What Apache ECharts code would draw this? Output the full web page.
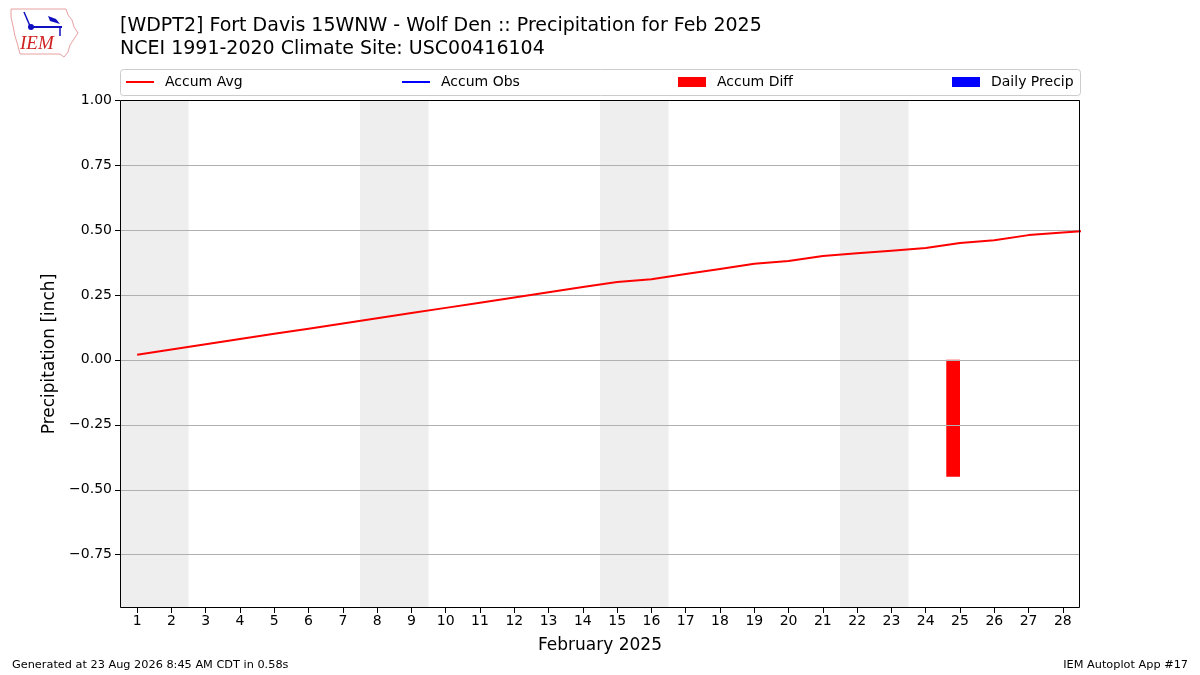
<!DOCTYPE html>
<html>
<head>
<meta charset="utf-8">
<script src="https://cdn.jsdelivr.net/npm/echarts@6/dist/echarts.min.js"></script>
<style>
html, body { margin: 0; padding: 0; background: #fff; }
#chart { width: 1200px; height: 675px; }
</style>
</head>
<body>
<div id="chart"></div>
<script>
// data
var days = [1, 2, 3, 4, 5, 6, 7, 8, 9, 10, 11, 12, 13, 14, 15, 16, 17, 18, 19, 20, 21, 22, 23, 24, 25, 26, 27, 28, 29];
var accumAvg = [0.02, 0.04, 0.06, 0.08, 0.10, 0.12, 0.14, 0.16, 0.18, 0.20, 0.22, 0.24, 0.26, 0.28, 0.30, 0.31, 0.33, 0.35, 0.37, 0.38, 0.40, 0.41, 0.42, 0.43, 0.45, 0.46, 0.48, 0.49, 0.50];
var accumObs = [];
var diffDays = [25];
var diffVals = [-0.45];
var dailyPrecip = [];
var weekends = [[1, 2], [8, 9], [15, 16], [22, 23]];
var xTicks = [1, 2, 3, 4, 5, 6, 7, 8, 9, 10, 11, 12, 13, 14, 15, 16, 17, 18, 19, 20, 21, 22, 23, 24, 25, 26, 27, 28];
var yTicks = [-0.75, -0.5, -0.25, 0, 0.25, 0.5, 0.75, 1.0];

var FONT = 'DejaVu Sans';
var chart = echarts.init(document.getElementById('chart'));

function barItem(params, api) {
    var d = api.value(0), v = api.value(1);
    var p0 = api.coord([d - 0.4, 0]);
    var p1 = api.coord([d, v]);
    return {
        type: 'rect',
        shape: { x: p0[0], y: Math.min(p0[1], p1[1]), width: p1[0] - p0[0], height: Math.abs(p1[1] - p0[1]) },
        style: { fill: api.visual('color') }
    };
}

function legendAt(name, left, h) {
    return {
        data: [name], left: left, top: 75, padding: 0, icon: 'rect',
        itemWidth: 28, itemHeight: h, selectedMode: false,
        textStyle: { fontFamily: FONT, fontSize: 14, color: '#000', padding: [0, 0, 0, 6] }
    };
}

option = {
    backgroundColor: '#fff',
    animation: false,
    title: {
        text: '[WDPT2] Fort Davis 15WNW - Wolf Den :: Precipitation for Feb 2025\nNCEI 1991-2020 Climate Site: USC00416104',
        left: 120, top: 15, padding: 0,
        textStyle: { fontFamily: FONT, fontSize: 19, fontWeight: 'normal', color: '#000', lineHeight: 23 }
    },
    legend: [
        legendAt('Accum Avg', 126, 2),
        legendAt('Accum Obs', 402, 2),
        legendAt('Accum Diff', 678, 10),
        legendAt('Daily Precip', 952, 10)
    ],
    grid: { left: 120, right: 120, top: 100, bottom: 67, containLabel: false },
    xAxis: {
        type: 'value', min: 0.5, max: 28.5,
        name: 'February 2025', nameLocation: 'middle', nameGap: 29,
        nameTextStyle: { fontFamily: FONT, fontSize: 17, color: '#000' },
        axisLine: { show: false, onZero: false },
        axisTick: { show: true, customValues: xTicks, length: 5, lineStyle: { color: '#000' } },
        axisLabel: { customValues: xTicks, margin: 6, fontFamily: FONT, fontSize: 14, color: '#000' },
        splitLine: { show: false }
    },
    yAxis: {
        type: 'value', min: -0.955, max: 1.0,
        name: 'Precipitation [inch]', nameLocation: 'middle', nameGap: 55,
        nameTextStyle: { fontFamily: FONT, fontSize: 17, color: '#000' },
        axisLine: { show: false, onZero: false },
        axisTick: { show: true, customValues: yTicks, length: 5, lineStyle: { color: '#000' } },
        axisLabel: {
            customValues: yTicks, margin: 8, fontFamily: FONT, fontSize: 14, color: '#000',
            formatter: function (v) { return v.toFixed(2).replace('-', '\u2212'); }
        },
        splitLine: { show: false }
    },
    series: [
        {
            name: 'weekends', type: 'line', data: [], z: 1, silent: true,
            markArea: {
                silent: true,
                itemStyle: { color: '#eeeeee' },
                data: weekends.map(function (w) { return [{ xAxis: w[0] - 0.5 }, { xAxis: w[1] + 0.5 }]; })
            }
        },
        {
            name: 'grid', type: 'line', data: [], z: 2, silent: true,
            markLine: {
                silent: true, symbol: 'none', label: { show: false },
                lineStyle: { color: '#b0b0b0', width: 1, type: 'solid' },
                data: yTicks.map(function (v) { return { yAxis: v }; })
            }
        },
        {
            name: 'Accum Avg', type: 'line', z: 5, showSymbol: false,
            itemStyle: { color: '#ff0000' },
            lineStyle: { color: '#ff0000', width: 2 },
            data: days.map(function (d, i) { return [d, accumAvg[i]]; })
        },
        {
            name: 'Accum Obs', type: 'line', z: 5, showSymbol: false,
            itemStyle: { color: '#0000ff' },
            lineStyle: { color: '#0000ff', width: 2 },
            data: accumObs
        },
        {
            name: 'Accum Diff', type: 'custom', z: 4,
            itemStyle: { color: '#ff0000' },
            renderItem: barItem,
            data: diffDays.map(function (d, i) { return [d, diffVals[i]]; })
        },
        {
            name: 'Daily Precip', type: 'custom', z: 4,
            itemStyle: { color: '#0000ff' },
            renderItem: barItem,
            data: dailyPrecip
        }
    ],
    graphic: [
        { type: 'rect', z: -1, shape: { x: 120.5, y: 69.5, width: 960, height: 26, r: 3 },
          style: { fill: '#fff', stroke: '#cccccc', lineWidth: 1 } },
        { type: 'rect', z: 100, silent: true, shape: { x: 120.5, y: 100.5, width: 959, height: 507 },
          style: { fill: null, stroke: '#000', lineWidth: 1 } },
        // IEM logo approximation
        { type: 'polygon', z: 100, shape: { points: [[11, 9], [66, 9], [68, 15], [72, 20], [74, 27], [78, 33], [74, 39], [70, 45], [68, 52], [64, 57], [60, 54], [20, 54], [18, 46], [15, 36], [13, 26], [11, 17]] },
          style: { fill: '#fff', stroke: '#e8a0a0', lineWidth: 1 } },
        { type: 'line', z: 101, shape: { x1: 30, y1: 27, x2: 62, y2: 27 }, style: { stroke: '#1010c0', lineWidth: 2 } },
        { type: 'circle', z: 101, shape: { cx: 31, cy: 27, r: 3 }, style: { fill: '#1010c0' } },
        { type: 'line', z: 101, shape: { x1: 24, y1: 12, x2: 30, y2: 26 }, style: { stroke: '#1010c0', lineWidth: 1.5 } },
        { type: 'polygon', z: 101, shape: { points: [[48, 16], [56, 19], [60, 24], [50, 21]] }, style: { fill: '#1010c0' } },
        { type: 'line', z: 101, shape: { x1: 60, y1: 27, x2: 60, y2: 36 }, style: { stroke: '#1010c0', lineWidth: 1.5 } },
        { type: 'text', z: 101, left: 20, top: 34,
          style: { text: 'IEM', font: 'italic 19px "Liberation Serif", "DejaVu Serif", serif', fill: '#d02020' } },
        // footer
        { type: 'text', left: 12, top: 660,
          style: { text: 'Generated at 23 Aug 2026 8:45 AM CDT in 0.58s', font: '11.3px "DejaVu Sans"', fill: '#000' } },
        { type: 'text', right: 12, top: 660,
          style: { text: 'IEM Autoplot App #17', font: '11.3px "DejaVu Sans"', fill: '#000' } }
    ]
};

chart.setOption(option);
</script>
</body>
</html>
